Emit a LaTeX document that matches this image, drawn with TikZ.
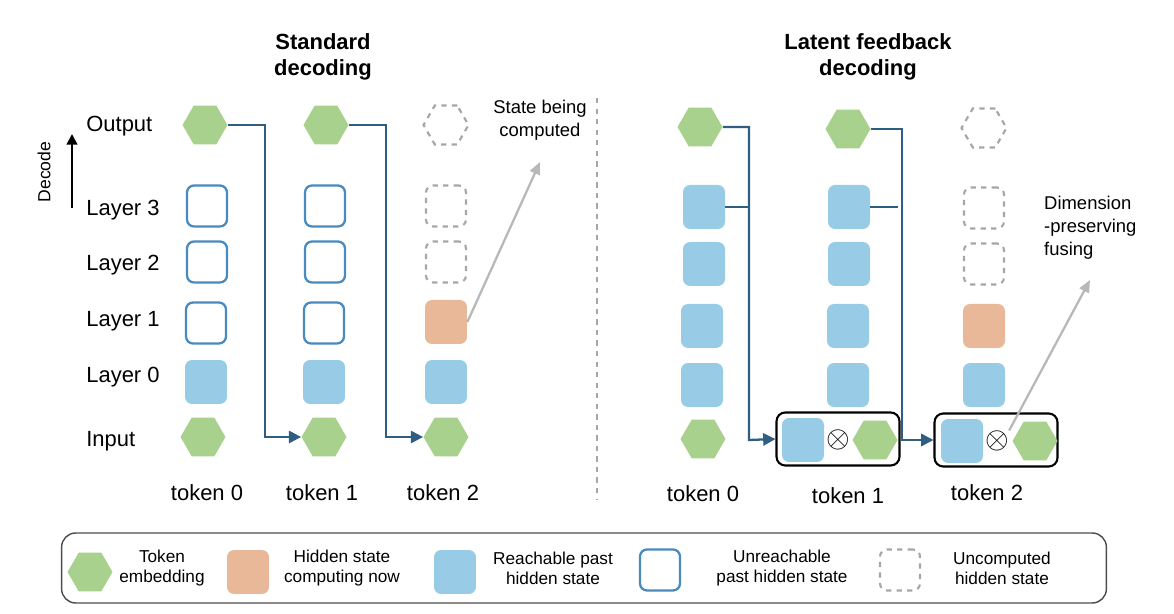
\documentclass[tikz,border=0pt]{standalone}
\usepackage{fontspec}
\setmainfont{Liberation Sans}
\usetikzlibrary{shapes.geometric,arrows.meta}
\definecolor{hexg}{HTML}{A9D18E}
\definecolor{blu}{HTML}{97CBE6}
\definecolor{org}{HTML}{E8B898}
\definecolor{arr}{HTML}{2E5E82}
\definecolor{ubd}{HTML}{4A8BBF}
\definecolor{gry}{HTML}{A6A6A6}
\begin{document}
\begin{tikzpicture}[x=0.02cm,y=-0.02cm,
 hexn/.style={regular polygon,regular polygon sides=6,fill=hexg,minimum size=0.9cm,inner sep=0,draw=none},
 hexd/.style={hexn,fill=none,draw=gry,dashed,line width=1.2pt},
 sq/.style={rectangle,rounded corners=4pt,minimum width=0.84cm,minimum height=0.88cm,inner sep=0},
 reach/.style={sq,fill=blu},
 now/.style={sq,fill=org},
 unre/.style={sq,draw=ubd,line width=1.3pt,minimum width=0.8cm,minimum height=0.82cm},
 unc/.style={sq,draw=gry,dashed,line width=1.2pt,minimum width=0.8cm,minimum height=0.82cm},
 lbl/.style={font=\fontsize{12.5}{14}\selectfont,anchor=west,inner sep=0},
 tok/.style={font=\fontsize{12.5}{14}\selectfont,inner sep=0},
 ttl/.style={font=\bfseries\fontsize{12.5}{15}\selectfont,align=center,inner sep=0},
 conn/.style={draw=arr,line width=1.3pt},
 tip/.style={conn,-{Triangle[length=7pt,width=7pt]}},
 gline/.style={draw=gry!80,line width=1.3pt,-{Triangle[length=7pt,width=6pt]}},
 leg/.style={font=\fontsize{9.8}{11.5}\selectfont,align=center,inner sep=0},
 fbox/.style={draw,rounded corners=5pt,line width=1.2pt,minimum width=2.46cm,minimum height=1.06cm,inner sep=0},
 otim/.style={inner sep=0,font=\fontsize{17}{17}\selectfont}]
\useasboundingbox (0,0) rectangle (1174,614);
% titles
\node[ttl] (t1) at (323,57) {Standard\\decoding};
\node[ttl] (t2) at (868,57) {Latent feedback\\decoding};
\draw[gry,dashed,line width=1.2pt] (597,98) -- (597,500);
% decode
\draw[-{Triangle[length=6pt,width=6pt]},line width=1.2pt] (72,208) -- (72,134);
\node[rotate=90,font=\fontsize{10}{12}\selectfont] (dec) at (44,172) {Decode};
% row labels
\node[lbl] (lo) at (86,126) {Output};
\node[lbl] (l3) at (86,210) {Layer 3};
\node[lbl] (l2) at (86,265) {Layer 2};
\node[lbl] (l1) at (86,321) {Layer 1};
\node[lbl] (l0) at (86,377) {Layer 0};
\node[lbl] (li) at (86,441) {Input};
% left columns
\node[hexn] (a0o) at (205,125) {};
\node[unre] (a03) at (207,206) {};
\node[unre] (a02) at (207,262) {};
\node[unre] (a01) at (206,323) {};
\node[reach] (a00) at (206,382) {};
\node[hexn] (a0i) at (203,437) {};
\node[hexn] (a1o) at (326,125) {};
\node[unre] (a13) at (325,206) {};
\node[unre] (a12) at (325,262) {};
\node[unre] (a11) at (324,323) {};
\node[reach] (a10) at (324,382) {};
\node[hexn] (a1i) at (324,437) {};
\node[hexd] (a2o) at (446,125) {};
\node[unc] (a23) at (446,206) {};
\node[unc] (a22) at (446,262) {};
\node[now] (a21) at (446,322) {};
\node[reach] (a20) at (446,382) {};
\node[hexn] (a2i) at (446,437) {};
\node[tok] (k0) at (207,493) {token 0};
\node[tok] (k1) at (322,493) {token 1};
\node[tok] (k2) at (443,493) {token 2};
\coordinate (c1) at (265,125); \coordinate (c2) at (265,437);
\draw[tip] (a0o.east) -- (c1) -- (c2) -- (a1i.west);
\coordinate (c3) at (386,125); \coordinate (c4) at (386,437);
\draw[tip] (a1o.east) -- (c3) -- (c4) -- (a2i.west);
\coordinate (g1) at (540,162);
\draw[gline] (a21.east) -- (g1);
\node[font=\fontsize{10.5}{13}\selectfont,align=center] (sbc) at (540,120) {State being\\computed};
% right columns
\node[hexn] (b0o) at (700,127) {};
\node[reach] (b03) at (704,207) {};
\node[reach] (b02) at (704,264) {};
\node[reach] (b01) at (702,326) {};
\node[reach] (b00) at (702,385) {};
\node[hexn] (b0i) at (703,439) {};
\node[hexn] (b1o) at (848,129) {};
\node[reach] (b13) at (849,207) {};
\node[reach] (b12) at (849,264) {};
\node[reach] (b11) at (848,326) {};
\node[reach] (b10) at (848,385) {};
\node[hexd] (b2o) at (984,128) {};
\node[unc] (b23) at (984,208) {};
\node[unc] (b22) at (984,264) {};
\node[now] (b21) at (984,326) {};
\node[reach] (b20) at (984,385) {};
% fused boxes
\node[fbox] (f1) at (838,439) {};
\node[reach] (f1s) at (803,440) {};
\node[otim] (f1x) at (838,440) {$\otimes$};
\node[hexn] (f1h) at (875,440) {};
\node[fbox] (f2) at (996,440) {};
\node[reach] (f2s) at (962,441) {};
\node[otim] (f2x) at (997,441) {$\otimes$};
\node[hexn] (f2h) at (1035,441) {};
\node[tok] (m0) at (703,494) {token 0};
\node[tok] (m1) at (848,496) {token 1};
\node[tok] (m2) at (987,493) {token 2};
\coordinate (d1) at (749,127); \coordinate (d2) at (749,440);
\draw[tip] (b0o.east) -- (d1) -- (d2) -- (f1.west);
\coordinate (d3) at (749,207);
\draw[conn] (b03.east) -- (d3);
\coordinate (d4) at (902,129); \coordinate (d5) at (902,440);
\draw[tip] (b1o.east) -- (d4) -- (d5) -- (f2.west);
\coordinate (d6) at (898,207);
\draw[conn] (b13.east) -- (d6);
\coordinate (g2) at (1090,280);
\draw[gline] (f2x.north east) -- (g2);
\node[font=\fontsize{10.5}{13}\selectfont,align=left,anchor=west] (dpf) at (1038,228) {Dimension\\-preserving\\fusing};
% legend
\node[draw=black!70,rounded corners=8pt,line width=0.8pt,minimum width=20.9cm,minimum height=1.4cm,inner sep=0] (lg) at (584,568) {};
\node[hexn] (e1) at (90,572) {};
\node[leg] (e1t) at (162,568) {Token\\embedding};
\node[now] (e2) at (248,572) {};
\node[leg] (e2t) at (342,568) {Hidden state\\computing now};
\node[reach] (e3) at (455,572) {};
\node[leg] (e3t) at (553,568) {Reachable past\\hidden state};
\node[unre] (e4) at (660,570) {};
\node[leg] (e4t) at (782,568) {Unreachable\\past hidden state};
\node[unc] (e5) at (900,570) {};
\node[leg] (e5t) at (1002,568) {Uncomputed\\hidden state};
\end{tikzpicture}
\end{document}
